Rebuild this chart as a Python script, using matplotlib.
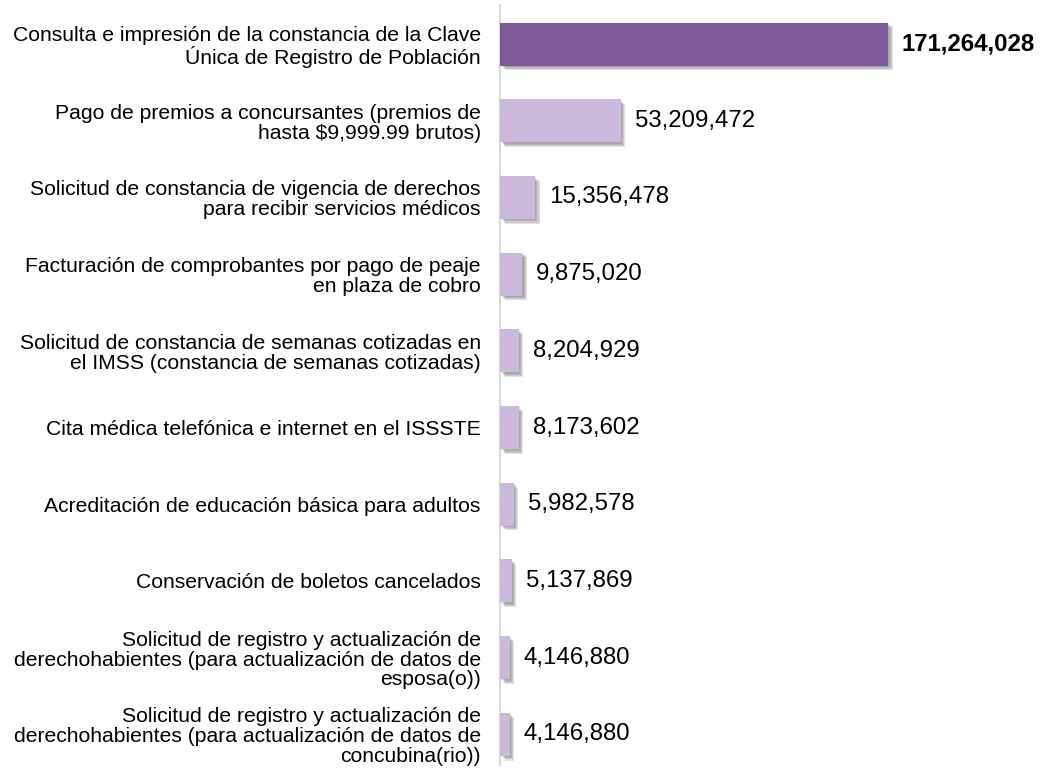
import matplotlib.pyplot as plt
import matplotlib.patheffects as pe

plt.rcParams['font.family'] = ['Liberation Sans', 'DejaVu Sans']

tramites = [
    "Consulta e impresión de la constancia de la Clave\nÚnica de Registro de Población",
    "Pago de premios a concursantes (premios de\nhasta $9,999.99 brutos)",
    "Solicitud de constancia de vigencia de derechos\npara recibir servicios médicos",
    "Facturación de comprobantes por pago de peaje\nen plaza de cobro",
    "Solicitud de constancia de semanas cotizadas en\nel IMSS (constancia de semanas cotizadas)",
    "Cita médica telefónica e internet en el ISSSTE",
    "Acreditación de educación básica para adultos",
    "Conservación de boletos cancelados",
    "Solicitud de registro y actualización de\nderechohabientes (para actualización de datos de\nesposa(o))",
    "Solicitud de registro y actualización de\nderechohabientes (para actualización de datos de\nconcubina(rio))",
]
valores = [171264028, 53209472, 15356478, 9875020, 8204929,
           8173602, 5982578, 5137869, 4146880, 4146880]

fig = plt.figure(figsize=(10.43, 7.7), dpi=100)
ax = fig.add_axes([0.4795, 0.0065, 0.5205, 0.987])

pos = list(range(len(valores)))
colores = ['#7F5A98'] + ['#CBB9DC'] * (len(valores) - 1)
bars = ax.barh(pos, valores, height=0.56, color=colores, zorder=3)
# soft shadow, a few stacked offsets to fake the blur
sombra = [pe.SimplePatchShadow(offset=(d, -d), shadow_rgbFace='#606060', alpha=0.18)
          for d in (1.0, 1.8, 2.6, 3.4)]
for b in bars:
    b.set_path_effects(sombra + [pe.Normal()])

for i, v in enumerate(valores):
    ax.annotate(f"{v:,}", (v, i), xytext=(10, 0), textcoords='offset points',
                va='center', ha='left', fontsize=17.3,
                fontweight='bold' if i == 0 else 'normal')

ax.set_xlim(0, 239.7e6)
ax.set_ylim(9.4, -0.51)
ax.set_yticks(pos)
ax.set_yticklabels(tramites, fontsize=15.2, multialignment='right', linespacing=1.05)
ax.tick_params(axis='y', length=0, pad=14)
ax.set_xticks([])
for s in ['top', 'right', 'bottom']:
    ax.spines[s].set_visible(False)
ax.spines['left'].set_color('#D9D9D9')
ax.spines['left'].set_linewidth(1.5)

fig.savefig('out.png', dpi=100)
